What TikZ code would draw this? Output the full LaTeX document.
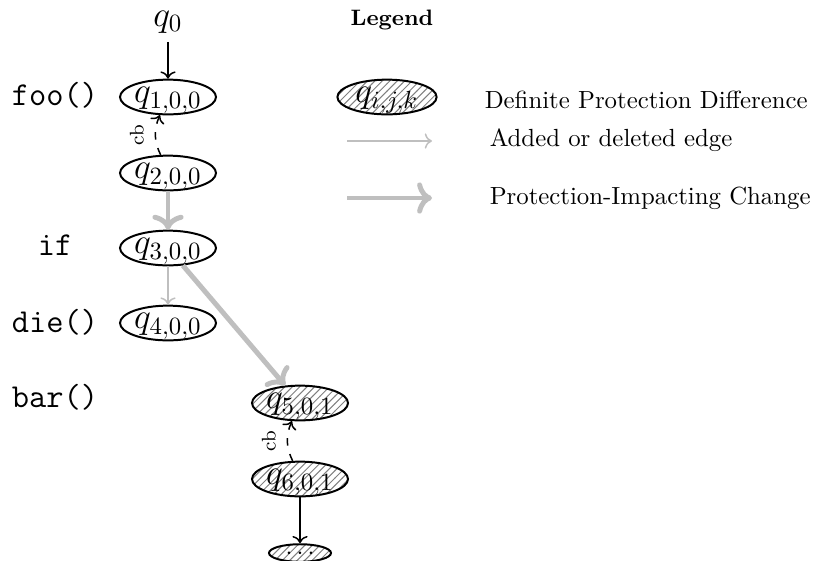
\documentclass[tikz,border=0pt]{standalone}
\usetikzlibrary{shapes.geometric,patterns,arrows.meta}
\begin{document}
\begin{tikzpicture}[x=0.4032pt,y=-0.4032pt,
  statefont/.style={font=\fontsize{13.8}{16}\selectfont},
  state/.style={ellipse,draw,line width=0.8pt,inner sep=0pt,statefont,
    text height=1.1ex,text depth=0pt,
    minimum width=38.7pt,minimum height=14pt},
  diffstate/.style={state,pattern=north east lines,pattern color=gray},
  code/.style={font=\fontsize{13.5}{16}\selectfont\ttfamily},
  flow/.style={->,line width=0.6pt},
  cb/.style={->,line width=0.6pt,dash pattern=on 3pt off 3.5pt},
  cblabel/.style={left=1pt,rotate=90,anchor=south,font=\footnotesize},
  added/.style={->,gray!50,line width=0.6pt},
  impact/.style={->,gray!50,line width=2pt},
  legtext/.style={anchor=west,font=\normalsize}]
\useasboundingbox (0,0) rectangle (817,560);

% states of the automaton
\node[statefont] (q0) at (168,22) {$q_0$};
\node[state] (q1) at (168,97) {$q_{1,0,0}$};
\node[state] (q2) at (168,173) {$q_{2,0,0}$};
\node[state] (q3) at (168,248) {$q_{3,0,0}$};
\node[state] (q4) at (168,323) {$q_{4,0,0}$};
\node[diffstate] (q5) at (300,403) {$q_{5,0,1}$};
\node[diffstate] (q6) at (300,479) {$q_{6,0,1}$};
\node[diffstate,font=\normalsize,text height=5pt,text depth=0pt,
  minimum width=25pt,minimum height=5.5pt] (qd) at (300,553) {$\cdots$};

% program points
\node[code] (l1) at (55,95) {foo()};
\node[code] (l3) at (55,245) {if};
\node[code] (l4) at (55,322) {die()};
\node[code] (l5) at (55,397) {bar()};

% transitions
\draw[flow] (q0) -- (q1);
\draw[cb] (q2.112) to[bend left=25] node[cblabel] {cb} (q1.246);
\draw[impact] (q2) -- (q3);
\draw[added] (q3) -- (q4);
\draw[impact] (q3) -- (q5);
\draw[cb] (q6.112) to[bend left=25] node[cblabel] {cb} (q5.246);
\draw[flow] (q6) -- (qd);

% legend
\node[font=\small\bfseries] (lg) at (392,20) {Legend};
\node[diffstate,minimum width=40pt] (lq) at (387,97) {$q_{i,j,k}$};
\node[legtext] (t1) at (476,100) {Definite Protection Difference};
\coordinate (a1) at (347,141);
\coordinate (b1) at (432,141);
\draw[added] (a1) -- (b1);
\node[legtext] (t2) at (481,140) {Added or deleted edge};
\coordinate (a2) at (347,198);
\coordinate (b2) at (432,198);
\draw[impact] (a2) -- (b2);
\node[legtext] (t3) at (481,198) {Protection-Impacting Change};
\end{tikzpicture}
\end{document}
